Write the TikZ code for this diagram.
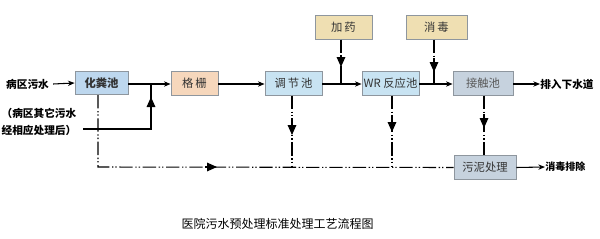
\documentclass[tikz,border=0pt]{standalone}
\usepackage{fontspec}
\setmainfont{Noto Sans CJK SC}
\usetikzlibrary{arrows.meta}
\definecolor{bxline}{HTML}{8E969E}
\definecolor{fblue}{HTML}{BDD7EE}
\definecolor{fpeach}{HTML}{F6D7BC}
\definecolor{flblue}{HTML}{C8E3F2}
\definecolor{fgray}{HTML}{C6D2DE}
\definecolor{ftan}{HTML}{EFDFB2}
\definecolor{txt}{HTML}{333333}
\begin{document}
\begin{tikzpicture}[x=0.75pt,y=-0.75pt,
  box/.style={draw=bxline,line width=0.6pt,minimum width=#1*0.75pt,minimum height=17.5pt,inner sep=0pt,font=\fontsize{8.5}{10}\selectfont,text=txt},
  box/.default=56,
  lbl/.style={font=\fontsize{7.5}{10}\selectfont,text=black,inner sep=0pt},
  flow/.style={line width=0.8pt,-{Stealth[length=5pt,width=4pt]}},
  sl/.style={line width=0.8pt,dash pattern=on 10pt off 2pt on 1pt off 1.5pt on 1pt off 2pt},
  bigtip/.style={line width=0.8pt,-{Triangle[length=7.5pt,width=6.5pt]}}]
\useasboundingbox (0,0) rectangle (600,239);
% boxes
\node[box=53,fill=fblue,font=\fontsize{8.5}{10}\selectfont\bfseries] (hf) at (101.5,83) {化粪池};
\node[box=47,fill=fpeach] (gs) at (194.5,83.5) {格\,栅};
\node[box=57,fill=flblue] (tj) at (293.5,83.5) {调\,节\,池};
\node[box=57,fill=flblue] (wr) at (390.5,83.5) {WR 反应池};
\node[box=60,fill=fgray,text=black!65] (jc) at (483,83.5) {接触池};
\node[box=57,fill=ftan] (jy) at (343.5,27.5) {加\,药};
\node[box=61,fill=ftan] (xd) at (436.5,27.5) {消\,毒};
\node[box=62,fill=fgray] (wn) at (485,167.5) {污泥处理};
% labels
\node[lbl,font=\fontsize{8}{10}\selectfont\bfseries] (src) at (27.5,84) {病区污水};
\node[lbl,align=center,font=\fontsize{8}{12.5}\selectfont\bfseries] (oth) at (39,122) {（病区其它污水\\经相应处理后）};
\coordinate (othend) at (83,129);
\node[lbl,font=\fontsize{8}{10}\selectfont\bfseries,anchor=west] (out1) at (540,84) {排入下水道};
\node[lbl,font=\fontsize{7.5}{10}\selectfont\bfseries,anchor=west] (out2) at (545,167) {消毒排除};
\node[lbl,font=\fontsize{9}{10}\selectfont] (cap) at (277.5,224) {医院污水预处理标准处理工艺流程图};
% coordinates
\coordinate (j1) at (151,84);
\coordinate (c1) at (98,167);
\coordinate (e1) at (292,167);
\coordinate (e2) at (392,167);
% main flow
\draw[flow] (src.east)++(4,0) -- (hf.west);
\draw[flow] (hf.east |- j1) -- (gs.west |- j1);
\draw[flow] (gs.east |- 0,84) -- (tj.west |- 0,84);
\draw[flow] (tj.east |- 0,84) -- (wr.west |- 0,84);
\draw[flow] (wr.east |- 0,84) -- (jc.west |- 0,84);
\draw[flow] (jc.east |- 0,84) -- (out1.west);
\draw[flow] (wn.east) -- (out2.west);
% other sewage
\draw[line width=0.8pt] (othend) -- (othend -| j1) -- (j1);
\draw[bigtip] (151,110) -- (151,97);
% dosing lines
\draw[sl] (jy.south -| 341,0) -- (341,60);
\draw[bigtip] (341,55) -- (341,67);
\draw[line width=0.8pt] (341,66) -- (341,84);
\draw[sl] (xd.south -| 434,0) -- (434,62);
\draw[bigtip] (434,58) -- (434,72);
\draw[line width=0.8pt] (434,70) -- (434,84);
% sludge lines
\draw[sl] (hf.south -| c1) -- (c1) -- (wn.west);
\draw[bigtip] (205,167) -- (217,167);
\draw[sl] (tj.south -| e1) -- (e1);
\draw[bigtip] (292,118) -- (292,135);
\draw[sl] (wr.south -| e2) -- (e2);
\draw[bigtip] (392,115) -- (392,132);
\draw[sl] (jc.south -| 484,0) -- (wn.north -| 484,0);
\draw[bigtip] (484,114) -- (484,128);
\end{tikzpicture}
\end{document}
